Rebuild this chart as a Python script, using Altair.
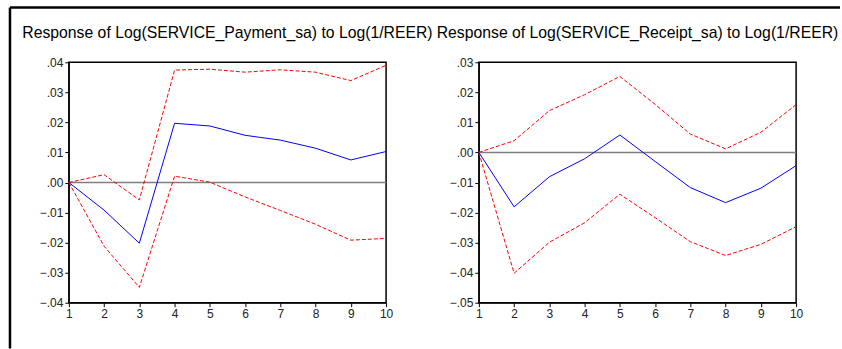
import altair as alt
import pandas as pd

periods = [1, 2, 3, 4, 5, 6, 7, 8, 9, 10]

# Left panel: Response of Log(SERVICE_Payment_sa) to Log(1/REER)
pay_resp = [0.0, -0.0092, -0.0202, 0.0197, 0.0188, 0.0157, 0.0141, 0.0114, 0.0075, 0.0103]
pay_upper = [0.0, 0.0026, -0.0058, 0.0374, 0.0377, 0.0367, 0.0375, 0.0367, 0.0339, 0.0390]
pay_lower = [0.0, -0.0212, -0.0349, 0.0021, 0.0001, -0.0048, -0.0093, -0.0139, -0.0192, -0.0186]

# Right panel: Response of Log(SERVICE_Receipt_sa) to Log(1/REER)
rec_resp = [0.0, -0.0181, -0.0081, -0.0021, 0.0058, -0.0030, -0.0117, -0.0167, -0.0119, -0.0044]
rec_upper = [0.0, 0.0039, 0.0139, 0.0192, 0.0253, 0.0160, 0.0061, 0.0012, 0.0067, 0.0159]
rec_lower = [0.0, -0.0402, -0.0299, -0.0234, -0.0139, -0.0217, -0.0297, -0.0343, -0.0306, -0.0247]

titles = ["Response of Log(SERVICE_Payment_sa) to Log(1/REER)",
          "Response of Log(SERVICE_Receipt_sa) to Log(1/REER)"]
left_ticks = [-0.04, -0.03, -0.02, -0.01, 0.0, 0.01, 0.02, 0.03, 0.04]
right_ticks = [-0.05, -0.04, -0.03, -0.02, -0.01, 0.0, 0.01, 0.02, 0.03]

W, H = 318, 241
FONT = "Liberation Sans"


def panel(resp, upper, lower, title, ticks, frame=False):
    df = pd.DataFrame({"period": periods, "resp": resp, "upper": upper, "lower": lower})
    xs = alt.Scale(domain=[1, 10], nice=False, zero=False)
    ys = alt.Scale(domain=[ticks[0], ticks[-1]], nice=False, zero=False)
    xaxis = alt.Axis(values=periods, title=None, labelAngle=0, grid=False, tickSize=4,
                     labelPadding=2, labelFontSize=12, labelFont=FONT, labelColor="#222222",
                     domainColor="black", tickColor="black", labelFlush=False)
    yaxis = alt.Axis(values=ticks, title=None, grid=False, tickSize=4, labelPadding=2,
                     labelFontSize=12, labelFont=FONT, labelColor="#222222",
                     domainColor="black", tickColor="black", format=".2f",
                     labelExpr="replace(datum.label, '0.', '.')")
    base = alt.Chart(df)
    zero = alt.Chart(pd.DataFrame({"z": [0.0]})).mark_rule(color="#7f7f7f", strokeWidth=1.5).encode(
        y=alt.Y("z:Q", scale=ys, axis=yaxis))
    up = base.mark_line(color="#ff0000", strokeWidth=1, strokeDash=[4, 2]).encode(
        x=alt.X("period:Q", scale=xs, axis=xaxis), y=alt.Y("upper:Q", scale=ys, axis=yaxis))
    lo = base.mark_line(color="#ff0000", strokeWidth=1, strokeDash=[4, 2]).encode(
        x=alt.X("period:Q", scale=xs, axis=xaxis), y=alt.Y("lower:Q", scale=ys, axis=yaxis))
    md = base.mark_line(color="#0000ff", strokeWidth=1).encode(
        x=alt.X("period:Q", scale=xs, axis=xaxis), y=alt.Y("resp:Q", scale=ys, axis=yaxis))
    one = alt.Chart(pd.DataFrame({"a": [0]}))
    ttl = one.mark_text(font=FONT, fontSize=15.8, color="black", align="center",
                        baseline="alphabetic").encode(
        x=alt.value(W / 2), y=alt.value(-24), text=alt.value(title))
    layers = [zero, up, lo, md, ttl]
    if frame:
        vline = one.mark_rule(color="black", strokeWidth=2.5).encode(
            x=alt.value(-59), y=alt.value(-55), y2=alt.value(287))
        hline = one.mark_rule(color="black", strokeWidth=2.5).encode(
            x=alt.value(-59), x2=alt.value(773), y=alt.value(-55))
        layers += [vline, hline]
    return alt.layer(*layers).properties(width=W, height=H)


left = panel(pay_resp, pay_upper, pay_lower, titles[0], left_ticks, frame=True)
right = panel(rec_resp, rec_upper, rec_lower, titles[1], right_ticks)

chart = alt.hconcat(left, right, spacing=93, bounds="flush").resolve_scale(
    x="independent", y="independent"
).properties(
    padding={"left": 8, "top": 5, "right": 0, "bottom": 0},
    background="white",
).configure_view(stroke="black", strokeWidth=1.5)

chart.save("out.html", embed_options={"renderer": "svg", "actions": False})
